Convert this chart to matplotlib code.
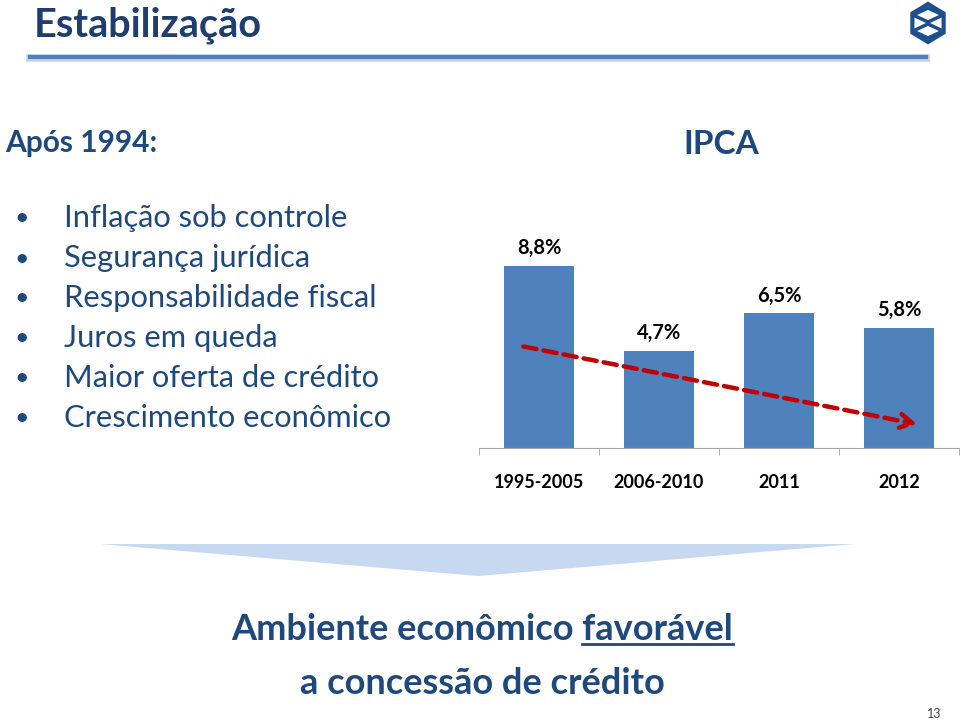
import numpy as np
import matplotlib.pyplot as plt
from matplotlib.patches import Polygon

# data
periods = ['1995-2005', '2006-2010', '2011', '2012']
ipca = [8.8, 4.7, 6.5, 5.8]
ipca_labels = ['8,8%', '4,7%', '6,5%', '5,8%']
bullets = ['Inflação sob controle', 'Segurança jurídica', 'Responsabilidade fiscal',
           'Juros em queda', 'Maior oferta de crédito', 'Crescimento econômico']
trend_start = (-0.13, 4.9)
trend_end = (3.15, 1.15)

W, H = 960, 721
navy = '#1F497D'
dark = '#1F3D6E'
bar_col = '#4F81BD'

plt.rcParams['font.family'] = ['Lato', 'DejaVu Sans']

fig = plt.figure(figsize=(W / 100, H / 100), dpi=100)


def fx(x):
    return x / W


def fy(y):
    return 1 - y / H


# header
fig.text(fx(34), fy(25), 'Estabilização', fontsize=28.5, fontweight='bold', color=dark,
         va='center', ha='left')
fig.add_artist(plt.Line2D([fx(30), fx(926)], [fy(58), fy(58)], color='#C8D2E0', lw=5.5))
fig.add_artist(plt.Line2D([fx(30), fx(926)], [fy(56.5), fy(56.5)], color='#4F81BD', lw=3))

# logo (simplified)
cx, cy, r = 928, 23, 19
ang = np.deg2rad(np.arange(90, 450, 60))
hx = cx + r * np.cos(ang) * 0.95
hy = cy - r * np.sin(ang)
fig.add_artist(Polygon(np.column_stack([fx(hx), fy(hy)]), closed=True, fill=False,
                       ec='#1F4E8C', lw=3, transform=fig.transFigure))
for pts in ([(913, 15), (928, 8), (943, 15), (928, 22), (913, 15)],
            [(913, 31), (928, 24), (943, 31), (928, 38), (913, 31)]):
    px, py = zip(*pts)
    fig.add_artist(plt.Line2D([fx(p) for p in px], [fy(p) for p in py], color='#1F4E8C', lw=2.5))

# left text
fig.text(fx(5), fy(143), 'Após 1994:', fontsize=21.5, fontweight='bold', color=navy,
         va='center', ha='left')
for i, b in enumerate(bullets):
    yy = 218 + i * 40
    fig.text(fx(22), fy(yy), '•', fontsize=18, color=navy, va='center', ha='center')
    fig.text(fx(64), fy(yy), b, fontsize=22.2, color=navy, va='center', ha='left')

# chart title
fig.text(fx(721), fy(145), 'IPCA', fontsize=24, fontweight='bold', color=navy,
         va='center', ha='center')

# bar chart
ax = fig.add_axes([fx(479), fy(448), 480 / W, 207.2 / H])
x = np.arange(len(periods))
ax.bar(x, ipca, width=0.59, color=bar_col)
for xi, v, lab in zip(x, ipca, ipca_labels):
    ax.text(xi, v + 0.85, lab, ha='center', va='center', fontsize=14.5, fontweight='bold',
            color='black', clip_on=False)
ax.annotate('', xy=trend_end, xytext=trend_start,
            arrowprops=dict(arrowstyle='->,head_length=0.9,head_width=0.5', color='#C00000',
                            lw=3.2, linestyle=(0, (3, 1.6)), shrinkA=0, shrinkB=0))
ax.set_xlim(-0.5, 3.5)
ax.set_ylim(0, 10)
ax.set_xticks(x, periods, fontsize=13, fontweight='bold')
ax.set_xticks(np.arange(-0.5, 4, 1), minor=True)
ax.tick_params(axis='x', which='major', length=0, pad=19)
ax.tick_params(axis='x', which='minor', length=5, color='#A6A6A6')
ax.set_yticks([])
for s in ['top', 'right', 'left']:
    ax.spines[s].set_visible(False)
ax.spines['bottom'].set_color('#A6A6A6')
ax.patch.set_alpha(0)

# big arrow
tri = np.array([[fx(100), fy(544)], [fx(855), fy(544)], [fx(478), fy(576)]])
fig.add_artist(Polygon(tri, closed=True, fc='#C6D9F1', ec='none', transform=fig.transFigure))

# bottom message
t1 = fig.text(fx(482), fy(630), 'Ambiente econômico favorável', fontsize=26, fontweight='bold',
              color=navy, va='center', ha='center')
fig.text(fx(482), fy(684), 'a concessão de crédito', fontsize=26, fontweight='bold',
         color=navy, va='center', ha='center')
fig.canvas.draw()
r = fig.canvas.get_renderer()
bb = t1.get_window_extent(r)
tmp = fig.text(0, 0, 'favorável', fontsize=26, fontweight='bold')
wfav = tmp.get_window_extent(r).width
tmp.remove()
uy = bb.y0 + 3
fig.add_artist(plt.Line2D([(bb.x1 - wfav) / W, bb.x1 / W], [uy / H, uy / H], color=navy, lw=2))

fig.text(fx(934), fy(714), '13', fontsize=9, color='#404040', va='center', ha='center')

fig.savefig('out.png', dpi=100)
